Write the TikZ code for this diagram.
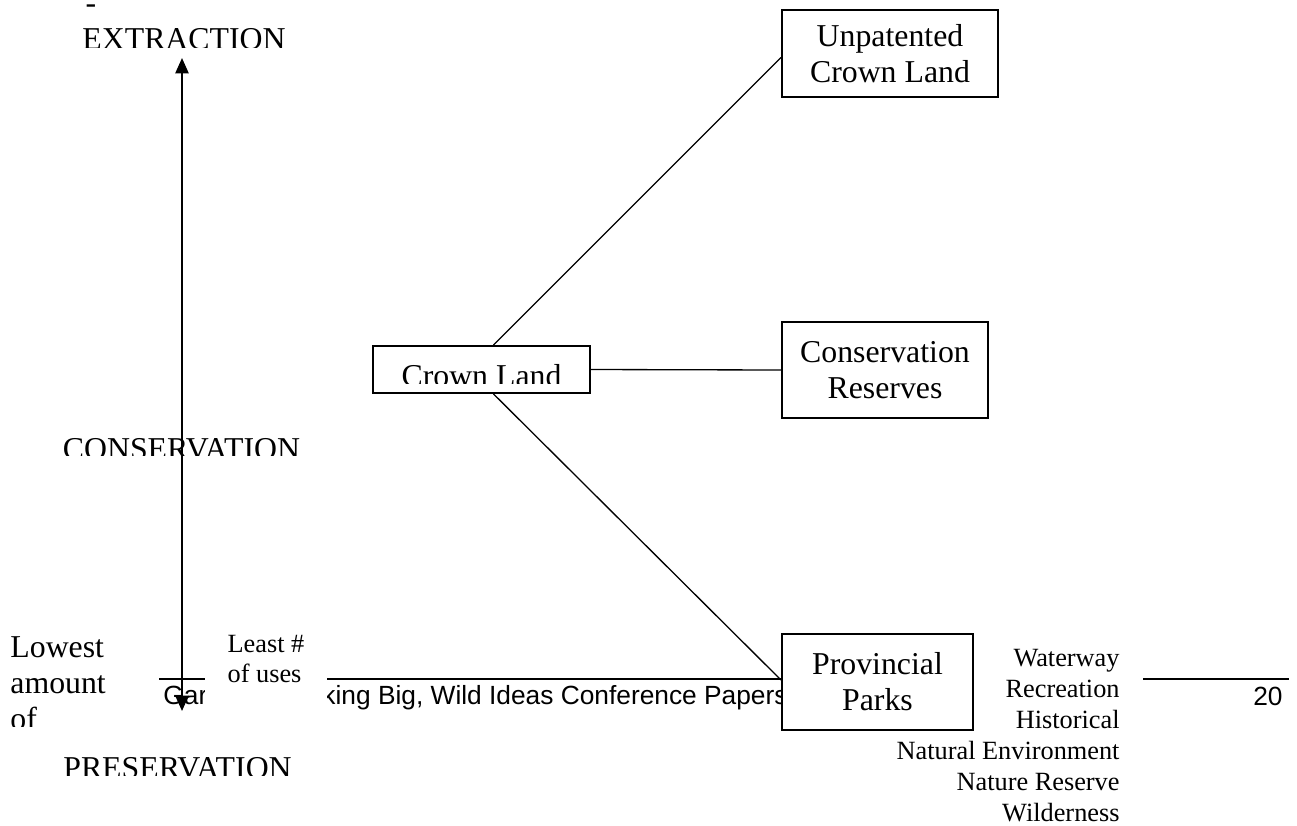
\documentclass[tikz,border=0pt]{standalone}
\usepackage{fontspec}
\setmainfont{Liberation Serif}
\newfontfamily\footfont{Liberation Sans}
\usepackage{tikz}
\usetikzlibrary{arrows.meta, calc}
\tikzset{
  landbox/.style={draw, line width=0.9pt, fill=white, align=center, inner sep=0pt,
                  font=\fontsize{14.5}{16.4}\selectfont},
  bigtext/.style={inner sep=0pt, font=\fontsize{14.5}{16.4}\selectfont},
  smalltext/.style={font=\fontsize{12}{14.1}\selectfont},
  foottext/.style={inner sep=0pt, font=\footfont\fontsize{12}{14}\selectfont},
  branch/.style={line width=0.6pt},
  axisarrow/.style={{Triangle[length=7pt,width=6pt]}-{Triangle[length=7pt,width=6pt]}, line width=0.9pt}
}

\begin{document}
\begin{tikzpicture}[x=0.456pt, y=-0.456pt]
\useasboundingbox (0,0) rectangle (1297,825);

% Footer
\coordinate (ruleL) at (159,679);
\coordinate (ruleR) at (1289,679);
\draw[line width=0.9pt] (ruleL) -- (ruleR);
\node[foottext, anchor=base west] (footleft) at (163,704) {Gar};
\node[foottext, anchor=base west] (footmid) at (322,704) {king Big, Wild Ideas Conference Papers};
\node[foottext, anchor=base east] (pagenum) at (1283,705) {20};

% Use labels
\node[smalltext, fill=white, align=left, minimum width=55.6pt, minimum height=48.3pt] (least) at (266,659) {Least \#\\of uses};
\node[smalltext, fill=white, align=right, anchor=north east, inner sep=10.5pt] (uses) at (1143,626)
  {Waterway\\Recreation\\Historical\\Natural Environment\\Nature Reserve\\Wilderness};

% Land types
\node[landbox, minimum width=98.5pt, minimum height=39.7pt] (unpat) at (890,53.5) {Unpatented\\Crown Land};
\node[landbox, minimum width=93.9pt, minimum height=43.8pt] (cons)  at (885,370)  {Conservation\\Reserves};
\node[landbox, minimum width=87.1pt, minimum height=43.8pt] (prov)  at (877.5,682) {Provincial\\Parks};
\node[landbox, minimum width=99pt, minimum height=21.4pt]   (crown) at (481.5,369.5) {};
\begin{scope}
  \clip (373,346) rectangle (590,383);
  \node[bigtext, anchor=base] (crowntext) at (481.5,386) {Crown Land};
\end{scope}

% Branches
\draw[branch] ($(crown.north)+(12,0)$) -- ($(unpat.west)+(0,4)$);
\draw[branch] (crown.east) -- (cons.west);
\draw[branch] ($(crown.south)+(12,0)$) -- ($(prov.west)+(0,-2)$);

% Scale labels
\node[bigtext, anchor=base] (dash) at (91,13) {-};
\begin{scope}
  \clip (0,0) rectangle (400,47);
  \node[bigtext, anchor=base] (extraction) at (184,49) {EXTRACTION};
\end{scope}
\begin{scope}
  \clip (0,420) rectangle (400,455);
  \node[bigtext, anchor=base] (conservation) at (181.5,459) {CONSERVATION};
\end{scope}
\begin{scope}
  \clip (0,740) rectangle (400,775);
  \node[bigtext, anchor=base] (preservation) at (177.5,778) {PRESERVATION};
\end{scope}
\begin{scope}
  \clip (0,600) rectangle (160,726);
  \node[bigtext, align=left, anchor=north west] (lowest) at (10,636) {Lowest\\amount\\of};
\end{scope}

% Axis
\coordinate (axtop) at (182,58);
\coordinate (axbot) at (182,711);
\draw[axisarrow] (axtop) -- (axbot);

\end{tikzpicture}
\end{document}
